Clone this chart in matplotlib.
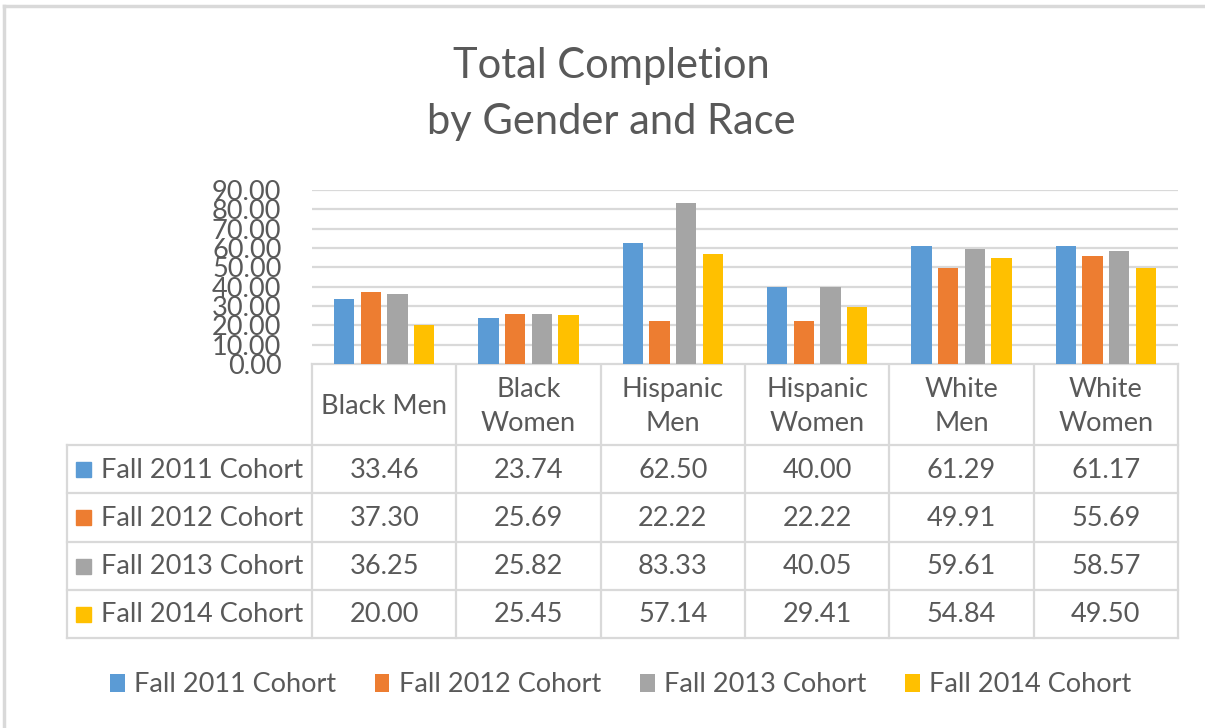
import matplotlib
matplotlib.use("Agg")
import matplotlib.pyplot as plt
import numpy as np
from matplotlib.patches import Rectangle

plt.rcParams['font.family'] = ['Lato', 'DejaVu Sans']

categories = ["Black Men", "Black\nWomen", "Hispanic\nMen", "Hispanic\nWomen", "White\nMen", "White\nWomen"]
series = ["Fall 2011 Cohort", "Fall 2012 Cohort", "Fall 2013 Cohort", "Fall 2014 Cohort"]
fall_2011 = [33.46, 23.74, 62.50, 40.00, 61.29, 61.17]
fall_2012 = [37.30, 25.69, 22.22, 22.22, 49.91, 55.69]
fall_2013 = [36.25, 25.82, 83.33, 40.05, 59.61, 58.57]
fall_2014 = [20.00, 25.45, 57.14, 29.41, 54.84, 49.50]
values = [fall_2011, fall_2012, fall_2013, fall_2014]
yticks = [0, 10, 20, 30, 40, 50, 60, 70, 80, 90]

colors = ["#5B9BD5", "#ED7D31", "#A5A5A5", "#FFC000"]
TXT = "#595959"
LINE = "#D9D9D9"
W, H = 1205, 728
FS = 19.5

fig = plt.figure(figsize=(W / 100, H / 100), dpi=100)

# plot area (pixel box converted to figure fraction)
px0, px1, py0, py1 = 312, 1178, 190, 364
ax = fig.add_axes([px0 / W, 1 - py1 / H, (px1 - px0) / W, (py1 - py0) / H])
x = np.arange(len(categories))
bars = []
for j, (name, vals) in enumerate(zip(series, values)):
    b = ax.bar(x + (j - 1.5) * 0.185, vals, width=0.14, color=colors[j], label=name, zorder=3)
    bars.append(b)
ax.set_xlim(-0.5, len(categories) - 0.5)
ax.set_ylim(0, 90)
ax.set_yticks(yticks)
ax.set_yticklabels([f"{v:.2f}" for v in yticks], fontsize=19.5, color=TXT)
ax.tick_params(axis='y', length=0, pad=22)
ax.set_xticks([])
ax.grid(axis='y', color=LINE, linewidth=1.6, zorder=0)
for s in ax.spines.values():
    s.set_visible(False)

# overlay in pixel coordinates for the data table and frame
ov = fig.add_axes([0, 0, 1, 1], zorder=-1)
ov.set_xlim(0, W)
ov.set_ylim(H, 0)
ov.axis('off')

# chart frame (top and left edges)
ov.plot([4, W], [6, 6], color=LINE, lw=2.5)
ov.plot([4, 4], [6, H], color=LINE, lw=2.5)

col_x = np.linspace(px0, px1, len(categories) + 1)
head_top, head_bot = 364, 445
row_y = np.linspace(445, 638, len(series) + 1)
lab_x0 = 67
lw = 1.6

# header cells
for xv in col_x:
    ov.plot([xv, xv], [head_top, row_y[-1]], color=LINE, lw=lw)
ov.plot([px0, px1], [head_top, head_top], color=LINE, lw=lw)
for yv in row_y:
    ov.plot([lab_x0, px1], [yv, yv], color=LINE, lw=lw)
ov.plot([lab_x0, lab_x0], [row_y[0], row_y[-1]], color=LINE, lw=lw)

for i, cat in enumerate(categories):
    cx = (col_x[i] + col_x[i + 1]) / 2
    ov.text(cx, (head_top + head_bot) / 2 + 2, cat, ha='center', va='center',
            fontsize=FS, color=TXT, linespacing=1.45)

for j, name in enumerate(series):
    cy = (row_y[j] + row_y[j + 1]) / 2
    ov.add_patch(Rectangle((76, cy - 7), 15, 15, color=colors[j]))
    ov.text(101, cy + 1, name, ha='left', va='center', fontsize=FS, color=TXT)
    for i in range(len(categories)):
        cx = (col_x[i] + col_x[i + 1]) / 2
        ov.text(cx, cy + 1, f"{values[j][i]:.2f}", ha='center', va='center',
                fontsize=FS, color=TXT)

fig.text(0.507, 1 - 66 / H, "Total Completion", ha='center', va='center', fontsize=30, color=TXT)
fig.text(0.507, 1 - 122 / H, "by Gender and Race", ha='center', va='center', fontsize=30, color=TXT)

fig.legend(handles=bars, labels=series, loc='center', bbox_to_anchor=(0.515, 1 - 685 / H),
           ncol=4, frameon=False, fontsize=FS, labelcolor=TXT,
           handlelength=0.55, handleheight=0.6, handletextpad=0.35, columnspacing=1.42)

fig.savefig("out.png", dpi=100, facecolor='white')
